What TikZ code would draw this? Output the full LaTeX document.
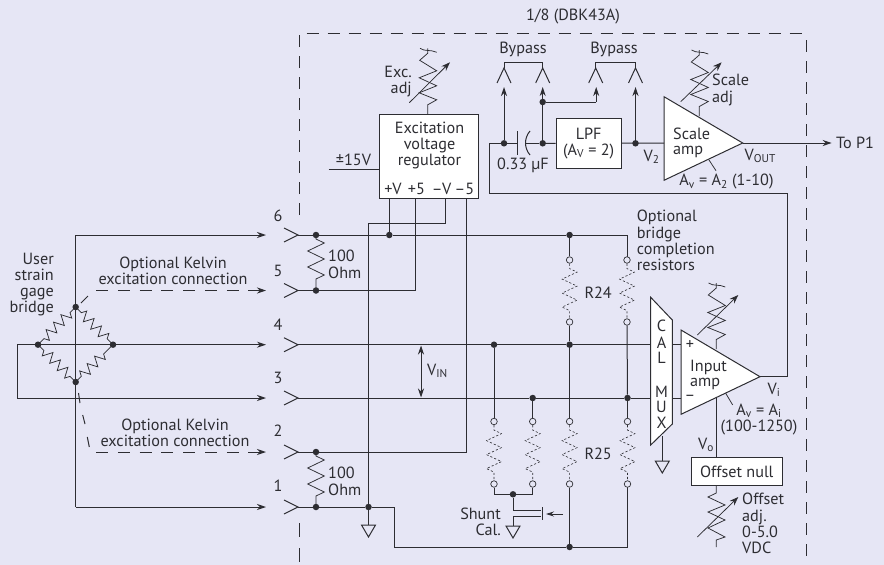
\documentclass[tikz,border=0pt]{standalone}
\usepackage{fontspec}
\setmainfont{PT Sans}
\usetikzlibrary{decorations.pathmorphing,arrows.meta,calc}
\definecolor{bgc}{RGB}{230,230,245}
\definecolor{ink}{RGB}{45,45,50}
\tikzset{
  x=1pt,y=-1pt,
  wire/.style={draw=ink,line width=1pt},
  thin wire/.style={draw=ink,line width=.75pt},
  arr/.style={wire,-{Stealth[length=9pt,width=6pt]}},
  varrow/.style={thin wire,-{Stealth[length=9pt,width=6.5pt]}},
  dsh/.style={draw=ink,line width=1pt,dash pattern=on 12pt off 9pt},
  dot/.style={circle,fill=ink,inner sep=0pt,minimum size=6.5pt},
  hole/.style={circle,draw=ink,line width=0.7pt,fill=bgc,inner sep=0pt,minimum size=6.5pt},
  res/.style={thin wire,decorate,decoration={zigzag,segment length=16pt,amplitude=8.3pt,pre length=4pt,post length=4pt}},
  opt/.style={draw=ink,line width=0.6pt,dash pattern=on 2.2pt off 2pt,decorate,decoration={zigzag,segment length=14pt,amplitude=7.5pt,pre length=5pt,post length=5pt}},
  lbl/.style={inner sep=0pt,font=\fontsize{16.2}{16.3}\selectfont,text=ink},
  lb/.style={lbl,anchor=west},
  white box/.style={draw=ink,line width=1pt,fill=white},
}
\newcommand{\upconn}[1]{\draw[wire] ($(#1)+(-7,15)$) -- (#1) -- ($(#1)+(7,15)$);}
\newcommand{\gnd}[1]{\draw[wire,fill=bgc] ($(#1)+(-7,0)$) -- ($(#1)+(7,0)$) -- ($(#1)+(0,12)$) -- cycle;}
% variable resistor, #1 x and #2 a vertical shift, same shape for all upper ones
\newcommand{\varres}[2]{\draw[thin wire,shift={(#1,#2)}] (0,0) -- (0,-9.5) -- (9,-14.5) -- (-8.5,-21.5) -- (9,-28.5) -- (-8.5,-36.5) -- (9,-43.5) -- (-8,-54) -- (0,-61) -- (0,-66);
\draw[thin wire,shift={(#1,#2)}] (-7.7,-66) .. controls (-3,-62.5) and (3,-65) .. (9,-62);}
\begin{document}
\begin{tikzpicture}
\useasboundingbox (0,0) rectangle (884,565);
\fill[bgc] (0,0) rectangle (884,565);
% dashed enclosure
\draw[dsh] (299.6,215) -- (299.6,33) -- (804,33);
\draw[dsh] (806.7,40) -- (806.7,565);
\draw[dsh,dash pattern=on 11pt off 10pt] (299.6,204) -- (299.6,215);
\draw[dsh,dash pattern=on 14pt off 11pt] (299.6,523) -- (299.6,565);
\node[lbl] (title) at (573,17) {1/8 (DBK43A)};

% connector tips on the left
\foreach \n/\y in {p6/235,p5/290.5,p4/344.7,p3/398,p2/452,p1/507}{
  \coordinate (\n) at (298,\y);
  \coordinate (\n a) at (266,\y);
  \draw[wire] (284,\y-7) -- (298,\y) -- (284,\y+7);
}
\foreach \t/\y in {6/216,5/271,4/325,3/378,2/431,1/486}{\node[lbl] (n\t) at (278,\y) {\t};}

% bridge
\node[dot] (bt) at (75.7,307) {};
\node[dot] (bl) at (38,344.7) {};
\node[dot] (br) at (113,344.7) {};
\node[dot] (bb) at (75.7,382) {};
\foreach \a/\b in {bt/bl,bt/br,bb/bl,bb/br}{
  \draw[thin wire,decorate,decoration={zigzag,segment length=10.5pt,amplitude=5pt,pre length=8pt,post length=8pt}] (\a.center) -- (\b.center);
}
\coordinate (loop1) at (17,344.7);
\coordinate (loop2) at (17,398);
\draw[wire] (loop2) -- (loop1);
\draw[arr] (loop1) -- (p4a);
\draw[arr] (loop2) -- (p3a);
\coordinate (bv6) at (75.7,235);
\coordinate (bv1) at (75.7,507);
\draw[wire] (bv6) -- (bv1);
\draw[arr] (bv6) -- (p6a);
\draw[arr] (bv1) -- (p1a);
\draw[wire] (81,303) -- (88,296);
\draw[wire] (78.5,393) -- (80,403);
\draw[wire] (82.7,415) -- (85,424);
\draw[wire] (87.3,437) -- (89.3,447);
\draw[dsh,dash pattern=on 12pt off 9.8pt] (96,290.5) -- (250,290.5);
\draw[arr] (248,290.5) -- (p5a);
\draw[dsh,dash pattern=on 12pt off 9.8pt] (96,452) -- (250,452);
\draw[arr] (248,452) -- (p2a);
\node[lbl,align=right,anchor=east] (ub) at (54,284.5) {User\\strain\\gage\\bridge};
\node[lbl,align=center] (k1) at (173,270.5) {Optional Kelvin\\excitation connection};
\node[lbl,align=center] (k2) at (175,433) {Optional Kelvin\\excitation connection};

% junctions on the signal rails
\node[dot] (d6a) at (316,235) {};
\node[dot] (d5a) at (316,290.5) {};
\node[dot] (d2a) at (316,452) {};
\node[dot] (d1a) at (316,507) {};
\node[dot] (d6b) at (389.3,235) {};
\node[dot] (d6c) at (569.6,235) {};
\node[dot] (d4a) at (494,344.7) {};
\node[dot] (d4b) at (569.6,344.7) {};
\node[dot] (d3a) at (532.7,398) {};
\node[dot] (d3b) at (627.5,398) {};
\node[dot] (d1b) at (368.5,507) {};
\node[dot] (d1c) at (569.6,547) {};

% 100 ohm
\draw[res] (d6a.center) -- (d5a.center);
\draw[res] (d2a.center) -- (d1a.center);
\node[lb,align=left,font=\fontsize{16.2}{17}\selectfont] (o1) at (328,264.5) {100\\Ohm};
\node[lb,align=left,font=\fontsize{16.2}{17}\selectfont] (o2) at (328,481.5) {100\\Ohm};

% regulator
\node[white box,minimum width=99pt,minimum height=83.7pt,inner sep=0pt] (reg) at (428.8,156.2) {};
\node[lbl,align=center] (regt) at (429.5,145.5) {Excitation\\voltage\\regulator};
\node[lbl] (pv) at (393,188.5) {+V};
\node[lbl] (p5p) at (416.5,188.5) {+5};
\node[lbl] (mv) at (441.5,188.5) {–V};
\node[lbl] (m5) at (464.5,188.5) {–5};
\coordinate (rv) at (389.3,198);
\coordinate (r5) at (415.7,198);
\coordinate (rm) at (445,198);
\coordinate (rn) at (466.7,198);
\coordinate (v15a) at (328.7,169.3);
\draw[wire] (v15a) -- (v15a -| reg.west);
\node[lbl] (v15) at (353.5,160) {±15V};
\draw[wire] (rv) -- (d6b);
\draw[wire] (r5) -- (415.7,290.5) -- (d5a);
\draw[wire] (rm) -- (445,223) -- (368.5,223) -- (d1b);
\draw[wire] (rn) -- (466.7,452) -- (d2a);
\coordinate (g1) at (368.5,525);
\draw[wire] (d1b) -- (g1);
\gnd{g1}
\draw[wire] (p6) -- (d6a) -- (d6b) -- (d6c) -- (627,235) -- (627,256.7);
\draw[wire] (p5) -- (d5a);
\draw[wire] (p2) -- (d2a);
\draw[wire] (p1) -- (d1a) -- (d1b);
\draw[wire] (d1b) -- (394.3,507) -- (394.3,547) -- (d1c) -- (627.5,547) -- (627.5,487);
\draw[wire] (p4) -- (d4a) -- (d4b) -- (650.7,344.7);
\draw[wire] (p3) -- (d3a) -- (d3b) -- (650.7,398);
\draw[wire] (672.3,344.7) -- (681,344.7);
\draw[wire] (672.3,398) -- (681,398);

% Exc adj
\varres{427.7}{114.3}
\draw[varrow] (409.3,102.7) -- (450,62.3);
\node[lbl,align=right,anchor=east,font=\fontsize{16.2}{15.5}\selectfont] (ex) at (412,81.5) {Exc.\\adj};

% bypass
\node[lbl] (by1) at (523,49) {Bypass};
\node[lbl] (by2) at (614,49) {Bypass};
\coordinate (a1) at (504,68);
\coordinate (a2) at (542.7,68);
\coordinate (a3) at (595.7,68);
\coordinate (a4) at (635.5,68);
\foreach \c in {a1,a2,a3,a4}{\upconn{\c}}
\draw[wire] (a1) -- ++(0,-6) -| (a2);
\draw[wire] (a3) -- ++(0,-6) -| (a4);
\node[dot] (c1) at (504,143.3) {};
\node[dot] (c2) at (542.7,143.3) {};
\node[dot] (c3) at (542.7,102) {};
\node[dot] (c4) at (635.5,143.3) {};
\draw[arr] (c1) -- (504,87);
\draw[arr] (c2.center) -- (542.7,87);
\draw[arr] (c4) -- (635.5,87);
\coordinate (c5) at (596.2,102);
\draw[wire] (c3) -- (c5);
\draw[arr] (c5) -- (596.2,87);

% capacitor
\draw[wire] (c1) -- (517.7,143.3);
\draw[wire] (517.7,131) -- (517.7,155);
\draw[wire] (530,131) .. controls (524,138) and (524,148) .. (530,155);
\draw[wire] (525.5,143.3) -- (c2);
\node[lbl] (capv) at (523,165) {0.33 µF};

% LPF
\node[white box,minimum width=65.3pt,minimum height=49.7pt,inner sep=0pt] (lpf) at (588.7,143.2) {};
\node[lbl,align=center] (lpft) at (588.7,143.2) {LPF\\(A\textsubscript{V} = 2)};
\draw[wire] (c2) -- (lpf);

% scale amp
\coordinate (sa) at (664,143);
\draw[white box] (664,96.7) -- (664,180.3) -- (742.7,143) -- cycle;
\draw[wire] (lpf) -- (sa);
\node[lb,align=left,font=\fontsize{16.2}{15}\selectfont] (st) at (673,142.5) {Scale\\amp};
\node[lbl] (v2) at (651.5,157) {V\textsubscript{2}};
\coordinate (top1) at (831.7,143);
\node[lb] (tp1) at (836,143) {To P1};
\draw[arr] (742.7,143) -- (top1);
\node[lb] (vout) at (744.5,156) {V\textsubscript{OUT}};
\node[lbl] (av2) at (726.5,182) {A\textsubscript{v} = A\textsubscript{2} (1-10)};
\draw[thin wire] (709,160) -- (716,170.7);

% scale adj
\varres{699.3}{116}
\draw[varrow] (680.7,101.7) -- (721.7,62.3);
\node[lb,align=left,font=\fontsize{16.2}{17}\selectfont] (sadj) at (712,90) {Scale\\adj};

% feedback
\draw[wire] (760,376.7) -- (787.3,376.7) -- (787.3,193.6) -- (489.3,193.6) -- (489.3,143.3) -- (c1);

% optional resistors
\foreach \nm/\x/\ya/\yb in {u1/569.6/260/322, u2/627/260/322, l1/569.6/421.5/484, l2/627.5/421.5/484, s1/494/421.5/484, s2/532.7/421.5/484}{
  \node[hole] (\nm t) at (\x,\ya) {};
  \node[hole] (\nm b) at (\x,\yb) {};
  \draw[opt] (\nm t) -- (\nm b);
}
\draw[wire] (d6c) -- (u1t);
\draw[wire] (u1b) -- (d4b);
\draw[wire] (u2b) -- (d3b);
\draw[wire] (d3b) -- (l2t);
\draw[wire] (d4b) -- (l1t);
\draw[wire] (l1b) -- (d1c);
\draw[wire] (d4a) -- (s1t);
\draw[wire] (d3a) -- (s2t);
\node[lb] (r24) at (584.3,292.7) {R24};
\node[lb] (r25) at (584.3,454) {R25};
\node[lb,align=left] (optb) at (636.7,240.5) {Optional\\bridge\\completion\\resistors};

% shunt
\node[dot] (sh) at (513,494.3) {};
\draw[wire] (s1b) |- (sh);
\draw[wire] (s2b) |- (sh);
\draw[wire] (sh) -- (513,510.7) -- (540.7,510.7);
\coordinate (g2) at (513,526);
\draw[wire] (540.7,516.7) -- (513,516.7) -- (g2);
\gnd{g2}
\draw[wire] (542.7,507) -- (542.7,520);
\draw[thin wire,-{Stealth[length=8pt,width=5pt]}] (563,514) -- (546,514);
\node[lbl,anchor=east,align=right] (shl) at (501,521.5) {Shunt\\Cal.};

% Vin
\draw[wire,{Stealth[length=9pt,width=6pt]}-{Stealth[length=9pt,width=6pt]}] (421,345.5) -- (421,397.5);
\node[lb] (vin) at (427,371) {V\textsubscript{IN}};

% MUX
\coordinate (g3) at (662.3,461);
\draw[wire] (662.3,436) -- (g3);
\gnd{g3}
\draw[white box] (650.7,297.3) -- (672.3,320) -- (672.3,424) -- (650.7,445) -- cycle;
\foreach \t/\y in {C/325.7,A/343,L/358,M/391.7,U/406.7,X/423}{\node[lbl] (m\t) at (661.5,\y) {\t};}

% input amp adj & offset
\coordinate (ofs) at (716.3,457.7);
\draw[wire] (716.3,398) -- (ofs);
\varres{716.3}{349}
\draw[varrow] (697.3,335) -- (738.3,295);
\draw[white box] (681,330) -- (681,414.3) -- (760,376.7) -- cycle;
\node[lbl] (ip) at (690,345.5) {+};
\node[lbl] (im) at (690,398) {–};
\node[lb,align=left,font=\fontsize{16.2}{15}\selectfont] (inam) at (690,374.5) {Input\\amp};
\node[lbl] (vi) at (774,390) {V\textsubscript{i}};
\node[lbl,align=center,font=\fontsize{16.2}{16.5}\selectfont] (avi) at (759,419.5) {A\textsubscript{v} = A\textsubscript{i}\\(100-1250)};
\draw[thin wire] (725.7,393.3) -- (732.7,405);
\node[lbl] (vo) at (706,445) {V\textsubscript{o}};

\node[white box,minimum width=91pt,minimum height=27.6pt,inner sep=0pt] (off) at (736.8,471.5) {};
\node[lbl] (offt) at (736.8,471.5) {Offset null};
\draw[thin wire] (716.3,485.3) -- (716.3,493) -- (708,497) -- (725,505) -- (708,512) -- (725,520) -- (708,528) -- (725,537) -- (716.3,540) -- (716.3,547);
\draw[varrow] (697.3,537) -- (738.3,497);
\node[lb,align=left] (offa) at (742,523.5) {Offset\\adj.\\0-5.0\\VDC};
\end{tikzpicture}
\end{document}
